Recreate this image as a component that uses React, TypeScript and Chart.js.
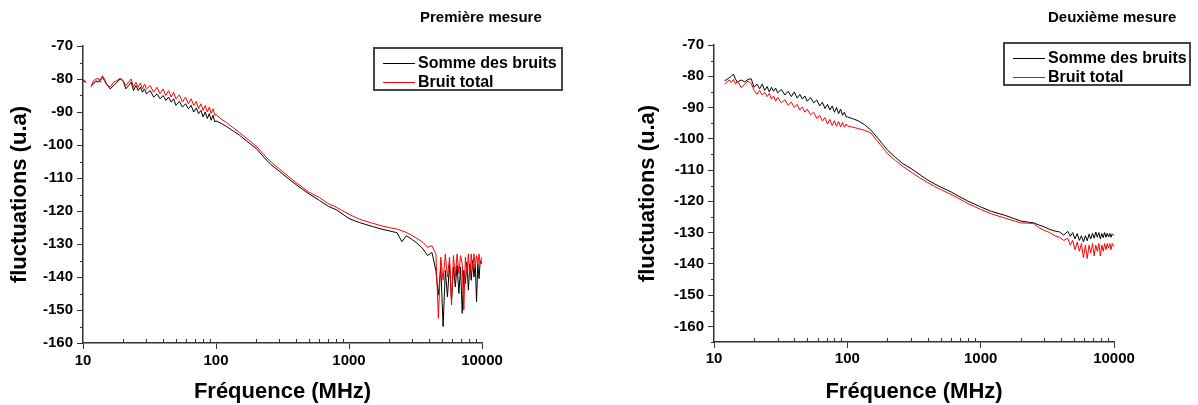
import React, { useEffect, useRef } from "react";
import { Chart, registerables } from "chart.js";

Chart.register(...registerables);

// ---------- DATA ----------
const FREQ_MHZ = [
  10, 10.5, 11, 11.5, 12, 12.5, 13, 13.5, 14, 14.5, 15, 16, 17, 18, 19,
  20, 21, 22, 23, 24, 25, 26, 27, 28, 29, 30,
  32, 34, 36, 38, 40, 42, 44, 46, 48, 50,
  53, 56, 59, 62, 65, 68, 71, 74, 77, 80, 83, 86, 89, 92, 95, 98, 100,
  110, 120, 135, 150, 170, 200, 230, 260, 300, 350, 400, 450, 500, 600, 700, 800, 900, 1000,
  1200, 1500, 1800, 2000, 2300, 2500, 2700, 3000, 3300, 3600, 3900, 4200,
  4500, 4700, 4900, 5100, 5300, 5500, 5700, 5900, 6100, 6300, 6500, 6700, 6900,
  7100, 7300, 7500, 7700, 7900, 8100, 8300, 8500, 8700, 8900, 9100, 9300, 9500, 9700, 10000,
];

// Première mesure
const SOMME_1 = [
  -80.5, -81, null, -82, -81.5, -80.5, -81, -80, -79.5, -80.5, -81.5, -83, -82, -81, -80,
  -80.5, -83, -82, -81, -83.5, -82, -83.5, -82.5, -84, -83, -84.5,
  -83.5, -85.5, -84.5, -86, -85, -86.5, -85.5, -87, -86, -88,
  -86.8, -88.5, -87.5, -89, -88, -90, -88.8, -90.5, -89.5, -91.5, -90, -92, -90.5, -92.5, -91, -93, -92.7,
  -93.5, -94.4, -95.8, -97, -98.8, -101, -103.8, -106, -108, -110.2, -112, -113.5, -114.8, -116.8, -118.6, -119.6, -121, -122.3,
  -123.5, -124.7, -125.6, -126, -126.6, -129.3, -127.5, -128.7, -130, -131.5, -133.5, -132.5,
  -138, -145.5, -137, -155, -138, -146, -136, -147, -137, -143, -136.5, -145, -137,
  -151, -138, -142, -135.5, -144, -136, -141, -135, -140, -136, -147.5, -136, -140.5, -135, -136,
];
const TOTAL_1 = [
  -80, -81, null, -82.5, -80.5, -80, -79.8, -81, -79, -80, -81.5, -82.5, -81, -80.5, -79.8,
  -80.5, -82, -81, -80, -82.5, -81, -82.5, -81.2, -83, -81.5, -83,
  -82, -84, -82.5, -84.5, -83, -85, -83.5, -85.5, -84, -86,
  -84.8, -87, -85.5, -87.5, -86, -88, -86.8, -89, -87.5, -89.5, -88, -90, -88.5, -90.5, -89, -91, -90.8,
  -92.2, -93.2, -94.8, -96.2, -98, -100.3, -103, -105.2, -107.3, -109.5, -111.4, -112.9, -114.3, -115.9, -117.8, -118.8, -120, -121,
  -122.5, -123.7, -124.6, -125, -125.5, -126, -126.5, -127.5, -128.5, -129.5, -131, -130.5,
  -133, -152.5, -134, -141, -133, -140, -134, -148.5, -133.5, -140, -133, -139, -133.5,
  -136, -150, -134, -139, -133, -140, -133, -138, -133, -137, -133.5, -136.5, -133, -136, -134,
];

// Deuxième mesure
const SOMME_2 = [
  null, null, -80.5, null, -81.5, -81, -80.5, -80, -79.3, -81, -81.8, -81.2, -81.8, -81, -80.8,
  -83.5, -82.5, -84, -82.5, -84.5, -83.3, -85, -83.5, -84.8, -83.8, -85.3,
  -84.2, -86, -84.8, -86.5, -85, -87, -85.8, -87.3, -86.3, -88,
  -86.8, -88.5, -87.6, -89.5, -88.3, -90.3, -89, -90.8, -89.5, -91.5, -90, -92, -90.5, -92.5, -91.5, -93, -93,
  -93.6, -94.2, -95.5, -97.2, -99.9, -103.6, -106, -107.9, -109.5, -111.5, -113.2, -114.4, -115.4, -117, -118.6, -119.9, -120.9, -121.8,
  -123.2, -124.4, -125.6, -126.3, -126.7, -126.9, -127.5, -128.2, -129, -129.5, -129.8, -130.8,
  -129.6, -131.2, -130, -132, -130.3, -132.5, -131, -133, -131, -132.6, -130.5, -132, -130.2,
  -131.8, -129.8, -131.5, -130, -132, -130.3, -131.6, -130, -131.5, -130.2, -131.4, -130.3, -131.5, -130.4, -131,
];
const TOTAL_2 = [
  null, null, -81.5, null, -82.5, -81.8, -81.2, -82, -81, -82.5, -81.5, -83.6, -82.5, -81.5, -82.3,
  -84.5, -85.8, -84.5, -86, -85.2, -86.5, -85.5, -87.3, -86.3, -88, -86.8,
  -88.5, -87.5, -89.3, -88.2, -90, -89, -90.8, -89.8, -91.5, -90.5,
  -92.3, -91.5, -93.5, -92.5, -94.3, -93.2, -95.3, -93.8, -95.8, -94.2, -96, -94.5, -96.2, -94.8, -96.3, -95.3, -95.9,
  -96.3, -96.7, -97.3, -98.1, -101, -104.7, -107, -108.8, -110.6, -112.5, -114, -115.2, -116.2, -117.8, -119.3, -120.7, -121.7, -122.6,
  -124, -125.3, -126.3, -126.9, -127, -127.1, -128.3, -129.3, -130, -131, -131.5, -132.5,
  -131.8, -134, -132.5, -135.5, -133, -136, -133.5, -138, -134, -138.3, -134, -136.5, -133.5,
  -137.5, -134, -136, -133.5, -137.5, -134, -136, -133.5, -135.5, -133.5, -135, -133.5, -135.5, -133.5, -134.5,
];

const X_TICKS = [10, 100, 1000, 10000];
const X_MINOR = [20, 30, 40, 50, 60, 70, 80, 90, 200, 300, 400, 500, 600, 700, 800, 900, 2000, 3000, 4000, 5000, 6000, 7000, 8000, 9000];
const Y_TICKS = [-70, -80, -90, -100, -110, -120, -130, -140, -150, -160];
const Y_MAX = -70;
const Y_MIN_1 = -160;
const Y_MIN_2 = -165;

const SERIES_NAMES = ["Somme des bruits", "Bruit total"];
const PANEL_TITLES = ["Première mesure", "Deuxième mesure"];
const X_TITLE = "Fréquence (MHz)";
const Y_TITLE = "fluctuations (u.a)";

// ---------- STYLE ----------
const FONT = '"Liberation Sans", Arial, Helvetica, sans-serif';
const AXIS = "#333333";
const BLACK = "#000000";
const RED = "#ff0000";
const SERIES_COLORS = [BLACK, RED];

type PanelCfg = {
  left: number;
  padLeft: number;
  yWidth: number;
  padRight: number;
  padTop: number;
  xHeight: number;
  xTickPad: number;
  titleLeft: number;
  legendLeft: number;
  legendTop: number;
  legendWidth: number;
};

const CFG_1: PanelCfg = {
  left: 0, padLeft: 7, yWidth: 76, padRight: 117, padTop: 46, xHeight: 62, xTickPad: 3,
  titleLeft: 420, legendLeft: 373, legendTop: 47, legendWidth: 190,
};
const CFG_2: PanelCfg = {
  left: 599, padLeft: 36, yWidth: 79, padRight: 84, padTop: 45, xHeight: 63, xTickPad: 2,
  titleLeft: 449, legendLeft: 404, legendTop: 42, legendWidth: 188,
};

function Panel(props: { cfg: PanelCfg; somme: (number | null)[]; total: (number | null)[]; yMin: number; title: string }) {
  const { cfg, somme, total, yMin, title } = props;
  const ref = useRef<HTMLCanvasElement>(null);

  useEffect(() => {
    if (!ref.current) return;
    const minorTicks = {
      id: "minorTicks",
      afterDraw(chart: any) {
        const ctx = chart.ctx;
        const xs = chart.scales.x;
        const ys = chart.scales.y;
        const a = chart.chartArea;
        ctx.save();
        ctx.strokeStyle = AXIS;
        ctx.lineWidth = 1;
        ctx.beginPath();
        for (const v of X_MINOR) {
          const px = Math.round(xs.getPixelForValue(v)) + 0.5;
          ctx.moveTo(px, a.bottom);
          ctx.lineTo(px, a.bottom - 4);
        }
        for (let i = 0; i < Y_TICKS.length; i++) {
          const v = Y_TICKS[i] - 5;
          if (v < yMin) continue;
          const py = Math.round(ys.getPixelForValue(v)) + 0.5;
          ctx.moveTo(a.left, py);
          ctx.lineTo(a.left - 3, py);
        }
        ctx.stroke();
        ctx.restore();
      },
    };

    const tickFont = { family: FONT, size: 15, weight: "bold" as const };
    const titleFont = { family: FONT, size: 22, weight: "bold" as const };

    const chart = new Chart(ref.current, {
      type: "line",
      data: {
        datasets: [
          {
            label: SERIES_NAMES[0],
            data: FREQ_MHZ.map((f, i) => ({ x: f, y: somme[i] })) as any,
            borderColor: SERIES_COLORS[0],
            borderWidth: 1,
            pointRadius: 0,
            spanGaps: false,
            order: 1,
          },
          {
            label: SERIES_NAMES[1],
            data: FREQ_MHZ.map((f, i) => ({ x: f, y: total[i] })) as any,
            borderColor: SERIES_COLORS[1],
            borderWidth: 1,
            pointRadius: 0,
            spanGaps: false,
            order: 0,
          },
        ],
      },
      options: {
        animation: false,
        responsive: false,
        maintainAspectRatio: false,
        layout: { padding: { left: cfg.padLeft, right: cfg.padRight, top: cfg.padTop, bottom: 0 } },
        plugins: {
          legend: { display: false },
          tooltip: { enabled: false },
          title: { display: false },
        },
        scales: {
          x: {
            type: "logarithmic",
            min: 10,
            max: 10000,
            afterBuildTicks: (s: any) => {
              s.ticks = X_TICKS.map((v) => ({ value: v }));
            },
            afterFit: (s: any) => {
              s.height = cfg.xHeight;
            },
            ticks: {
              font: tickFont,
              color: BLACK,
              padding: cfg.xTickPad,
              maxRotation: 0,
              autoSkip: false,
              callback: (v: any) => String(v),
            },
            grid: { drawOnChartArea: false, drawTicks: true, tickLength: 6, color: AXIS, lineWidth: 1 },
            border: { display: true, color: AXIS, width: 1.5 },
            title: { display: true, text: X_TITLE, font: titleFont, color: BLACK, padding: 0 },
          },
          y: {
            type: "linear",
            min: yMin,
            max: Y_MAX,
            afterBuildTicks: (s: any) => {
              s.ticks = Y_TICKS.map((v) => ({ value: v }));
            },
            afterFit: (s: any) => {
              s.width = cfg.yWidth;
            },
            ticks: { font: tickFont, color: BLACK, padding: 4, autoSkip: false },
            grid: { drawOnChartArea: false, drawTicks: true, tickLength: 6, color: AXIS, lineWidth: 1 },
            border: { display: true, color: AXIS, width: 1.5 },
            title: { display: true, text: Y_TITLE, font: titleFont, color: BLACK, padding: 0 },
          },
        },
      },
      plugins: [minorTicks],
    } as any);
    return () => chart.destroy();
  }, []);

  const rowCenters = [14, 33];
  return (
    <div style={{ position: "absolute", left: cfg.left, top: 0, width: 599, height: 405 }}>
      <canvas ref={ref} width={599} height={405} style={{ display: "block", width: 599, height: 405 }} />
      <div
        style={{
          position: "absolute",
          left: cfg.titleLeft,
          top: 8,
          fontFamily: FONT,
          fontWeight: "bold",
          fontSize: 15,
          lineHeight: "18px",
          whiteSpace: "nowrap",
          color: BLACK,
        }}
      >
        {title}
      </div>
      <div
        style={{
          position: "absolute",
          left: cfg.legendLeft,
          top: cfg.legendTop,
          width: cfg.legendWidth,
          height: 44,
          boxSizing: "border-box",
          border: "2px solid #444444",
          background: "#ffffff",
        }}
      >
        {SERIES_NAMES.map((name, i) => (
          <React.Fragment key={name}>
            <div
              style={{
                position: "absolute",
                left: 8,
                top: rowCenters[i],
                width: 32,
                height: 1,
                background: SERIES_COLORS[i],
              }}
            />
            <div
              style={{
                position: "absolute",
                left: 43,
                top: rowCenters[i] - 9,
                fontFamily: FONT,
                fontWeight: "bold",
                fontSize: 16,
                lineHeight: "18px",
                whiteSpace: "nowrap",
                color: BLACK,
              }}
            >
              {name}
            </div>
          </React.Fragment>
        ))}
      </div>
    </div>
  );
}

export default function App() {
  return (
    <div style={{ position: "absolute", left: 0, top: 0, width: 1198, height: 405, background: "#ffffff", overflow: "hidden" }}>
      <Panel cfg={CFG_1} somme={SOMME_1} total={TOTAL_1} yMin={Y_MIN_1} title={PANEL_TITLES[0]} />
      <Panel cfg={CFG_2} somme={SOMME_2} total={TOTAL_2} yMin={Y_MIN_2} title={PANEL_TITLES[1]} />
    </div>
  );
}
